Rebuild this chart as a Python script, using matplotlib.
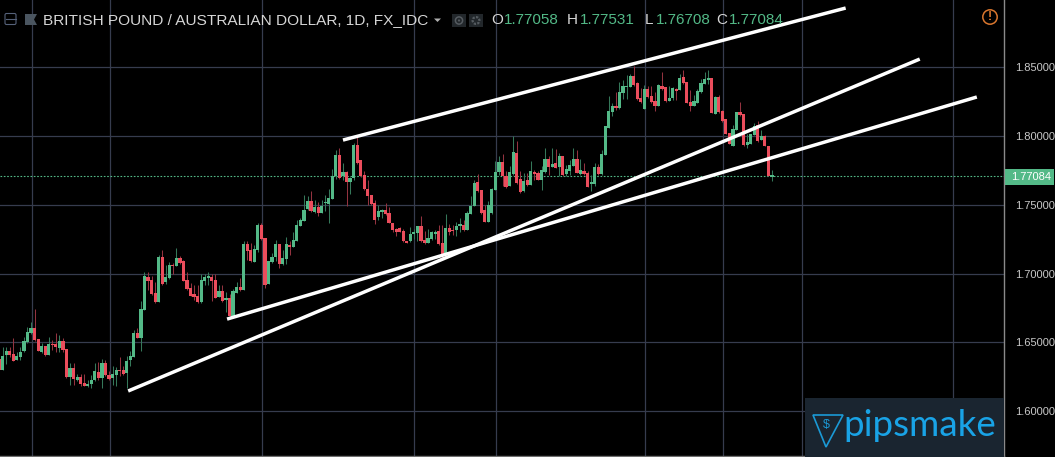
import matplotlib
matplotlib.use("Agg")
import matplotlib.pyplot as plt
import numpy as np
from matplotlib.patches import Rectangle, Polygon, Circle, FancyBboxPatch

# daily candles, GBP/AUD
opens = [1.6379,1.6300,1.6408,1.6437,1.6413,1.6372,1.6394,1.6437,1.6503,1.6568,
1.6604,1.6524,1.6430,1.6474,1.6408,1.6488,1.6488,1.6459,1.6510,1.6452,
1.6249,1.6314,1.6227,1.6249,1.6203,1.6184,1.6198,1.6227,1.6285,1.6242,
1.6350,1.6263,1.6242,1.6263,1.6300,1.6300,1.6278,1.6372,1.6394,1.6568,
1.6531,1.6734,1.6973,1.6952,1.6858,1.6792,1.7118,1.6937,1.6966,1.7060,
1.7053,1.7111,1.7089,1.6952,1.6894,1.6850,1.6836,1.6792,1.6944,1.6966,
1.6973,1.6952,1.6829,1.6872,1.6807,1.6821,1.6691,1.6858,1.6901,1.6879,
1.7214,1.7173,1.7086,1.7173,1.7355,1.7260,1.6926,1.7086,1.7122,1.7217,
1.7071,1.7108,1.7209,1.7195,1.7239,1.7348,1.7384,1.7471,1.7530,1.7450,
1.7486,1.7442,1.7515,1.7508,1.7544,1.7711,1.7864,1.7711,1.7741,1.7668,
1.7697,1.7937,1.7828,1.7719,1.7617,1.7573,1.7515,1.7413,1.7450,1.7464,
1.7442,1.7369,1.7326,1.7333,1.7311,1.7239,1.7239,1.7289,1.7297,1.7348,
1.7246,1.7224,1.7253,1.7289,1.7311,1.7224,1.7144,1.7333,1.7319,1.7319,
1.7348,1.7355,1.7319,1.7435,1.7493,1.7668,1.7610,1.7464,1.7377,1.7440,
1.7611,1.7737,1.7812,1.7713,1.7635,1.7727,1.7879,1.7689,1.7599,1.7684,
1.7647,1.7742,1.7732,1.7684,1.7742,1.7836,1.7778,1.7807,1.7776,1.7858,
1.7727,1.7749,1.7785,1.7836,1.7727,1.7749,1.7734,1.7655,1.7655,1.7778,
1.7727,1.7865,1.8058,1.8176,1.8220,1.8205,1.8314,1.8358,1.8358,1.8437,
1.8386,1.8278,1.8198,1.8343,1.8292,1.8256,1.8220,1.8365,1.8358,1.8256,
1.8278,1.8343,1.8336,1.8430,1.8394,1.8249,1.8220,1.8242,1.8321,1.8379,
1.8408,1.8423,1.8162,1.8285,1.8184,1.8126,1.8024,1.7930,1.8046,1.8176,
1.8162,1.7937,1.7945,1.8010,1.8082,1.7974,1.8003,1.7930,1.77058]

highs = [1.6396,1.6464,1.6464,1.6464,1.6531,1.6433,1.6469,1.6541,1.6614,1.6645,
1.6742,1.6524,1.6493,1.6474,1.6539,1.6517,1.6568,1.6553,1.6529,1.6452,
1.6348,1.6348,1.6268,1.6268,1.6268,1.6227,1.6263,1.6348,1.6358,1.6379,
1.6372,1.6292,1.6329,1.6319,1.6394,1.6329,1.6401,1.6437,1.6589,1.6604,
1.6800,1.7010,1.7010,1.6981,1.6937,1.7133,1.7169,1.7060,1.7082,1.7075,
1.7184,1.7126,1.7097,1.7010,1.6930,1.6915,1.6915,1.6995,1.6995,1.7010,
1.6995,1.6995,1.6915,1.6915,1.6865,1.6855,1.6886,1.6937,1.6966,1.7234,
1.7239,1.7222,1.7209,1.7367,1.7367,1.7260,1.7093,1.7151,1.7246,1.7217,
1.7173,1.7268,1.7234,1.7304,1.7391,1.7406,1.7573,1.7566,1.7602,1.7537,
1.7522,1.7537,1.7573,1.7617,1.7762,1.7901,1.7915,1.7806,1.7748,1.7704,
1.7952,1.8002,1.7828,1.7748,1.7682,1.7573,1.7537,1.7500,1.7471,1.7515,
1.7486,1.7369,1.7333,1.7340,1.7326,1.7239,1.7340,1.7326,1.7348,1.7420,
1.7311,1.7326,1.7311,1.7319,1.7355,1.7355,1.7435,1.7362,1.7355,1.7377,
1.7406,1.7391,1.7457,1.7561,1.7682,1.7726,1.7610,1.7500,1.7530,1.7622,
1.7817,1.7858,1.7870,1.7744,1.7780,1.7998,1.7961,1.7744,1.7732,1.7732,
1.7817,1.7756,1.7744,1.7785,1.7913,1.7853,1.7913,1.7906,1.7877,1.7858,
1.7792,1.7824,1.7913,1.7901,1.7836,1.7804,1.7749,1.7720,1.7804,1.7800,
1.7901,1.8075,1.8292,1.8239,1.8321,1.8394,1.8408,1.8444,1.8452,1.8510,
1.8394,1.8350,1.8372,1.8365,1.8365,1.8321,1.8379,1.8466,1.8358,1.8365,
1.8358,1.8350,1.8452,1.8481,1.8394,1.8336,1.8300,1.8343,1.8415,1.8466,
1.8481,1.8423,1.8292,1.8300,1.8191,1.8126,1.8024,1.8082,1.8176,1.8249,
1.8162,1.8017,1.8017,1.8094,1.8111,1.8046,1.8010,1.7930,1.77531]

lows = [1.6300,1.6300,1.6343,1.6396,1.6365,1.6372,1.6372,1.6430,1.6493,1.6560,
1.6510,1.6437,1.6420,1.6401,1.6408,1.6445,1.6430,1.6430,1.6430,1.6242,
1.6191,1.6191,1.6220,1.6179,1.6179,1.6176,1.6169,1.6220,1.6227,1.6169,
1.6256,1.6227,1.6191,1.6184,1.6256,1.6263,1.6169,1.6329,1.6394,1.6531,
1.6437,1.6734,1.6879,1.6843,1.6785,1.6792,1.6915,1.6923,1.6959,1.6995,
1.7053,1.7068,1.6944,1.6879,1.6836,1.6807,1.6785,1.6785,1.6915,1.6915,
1.6800,1.6821,1.6829,1.6792,1.6720,1.6691,1.6691,1.6858,1.6872,1.6879,
1.7100,1.7086,1.7086,1.7159,1.7246,1.6897,1.6926,1.7076,1.7093,1.7042,
1.7064,1.7071,1.7137,1.7195,1.7239,1.7348,1.7384,1.7464,1.7450,1.7442,
1.7420,1.7442,1.7457,1.7369,1.7544,1.7690,1.7690,1.7682,1.7493,1.7580,
1.7682,1.7799,1.7704,1.7610,1.7500,1.7500,1.7362,1.7391,1.7406,1.7428,
1.7369,1.7304,1.7275,1.7304,1.7231,1.7224,1.7231,1.7253,1.7239,1.7231,
1.7217,1.7224,1.7246,1.7253,1.7209,1.7100,1.7144,1.7282,1.7282,1.7275,
1.7304,1.7311,1.7319,1.7435,1.7493,1.7595,1.7435,1.7377,1.7377,1.7436,
1.7611,1.7720,1.7640,1.7623,1.7635,1.7720,1.7655,1.7587,1.7592,1.7640,
1.7647,1.7684,1.7679,1.7611,1.7732,1.7720,1.7776,1.7768,1.7708,1.7713,
1.7713,1.7720,1.7780,1.7732,1.7720,1.7720,1.7633,1.7604,1.7640,1.7720,
1.7720,1.7865,1.8058,1.8147,1.8191,1.8198,1.8271,1.8271,1.8358,1.8365,
1.8263,1.8242,1.8198,1.8278,1.8242,1.8184,1.8220,1.8336,1.8249,1.8256,
1.8263,1.8263,1.8336,1.8379,1.8242,1.8184,1.8220,1.8242,1.8314,1.8379,
1.8379,1.8169,1.8162,1.8169,1.8104,1.8017,1.7945,1.7930,1.8046,1.8147,
1.7930,1.7916,1.7945,1.8010,1.7959,1.7974,1.7930,1.7708,1.76708]

closes = [1.6300,1.6401,1.6437,1.6408,1.6365,1.6401,1.6430,1.6510,1.6575,1.6604,
1.6517,1.6437,1.6474,1.6408,1.6488,1.6481,1.6466,1.6510,1.6445,1.6249,
1.6314,1.6234,1.6249,1.6198,1.6184,1.6198,1.6227,1.6292,1.6242,1.6350,
1.6263,1.6234,1.6271,1.6300,1.6292,1.6271,1.6365,1.6401,1.6568,1.6531,
1.6742,1.6981,1.6944,1.6850,1.6792,1.7118,1.6923,1.6973,1.7060,1.7053,
1.7111,1.7075,1.6944,1.6886,1.6836,1.6829,1.6792,1.6952,1.6973,1.6981,
1.6944,1.6821,1.6872,1.6800,1.6821,1.6691,1.6872,1.6901,1.6879,1.7213,
1.7166,1.7093,1.7180,1.7355,1.7253,1.6918,1.7093,1.7122,1.7214,1.7071,
1.7115,1.7217,1.7195,1.7246,1.7355,1.7391,1.7464,1.7530,1.7457,1.7486,
1.7442,1.7493,1.7522,1.7551,1.7711,1.7864,1.7697,1.7741,1.7668,1.7697,
1.7937,1.7806,1.7711,1.7614,1.7566,1.7508,1.7391,1.7457,1.7464,1.7435,
1.7369,1.7319,1.7304,1.7304,1.7239,1.7224,1.7289,1.7304,1.7348,1.7239,
1.7224,1.7260,1.7304,1.7304,1.7217,1.7144,1.7333,1.7304,1.7311,1.7348,
1.7362,1.7319,1.7442,1.7493,1.7661,1.7602,1.7442,1.7377,1.7500,1.7615,
1.7739,1.7812,1.7713,1.7633,1.7742,1.7884,1.7660,1.7592,1.7676,1.7647,
1.7747,1.7727,1.7684,1.7756,1.7836,1.7778,1.7800,1.7771,1.7858,1.7718,
1.7763,1.7792,1.7836,1.7734,1.7756,1.7727,1.7633,1.7662,1.7778,1.7727,
1.7872,1.8075,1.8184,1.8220,1.8205,1.8321,1.8365,1.8365,1.8437,1.8372,
1.8271,1.8249,1.8343,1.8285,1.8249,1.8220,1.8372,1.8343,1.8256,1.8278,
1.8350,1.8329,1.8423,1.8386,1.8242,1.8220,1.8256,1.8329,1.8386,1.8415,
1.8423,1.8169,1.8285,1.8176,1.8111,1.8017,1.7945,1.8053,1.8176,1.8155,
1.7937,1.7959,1.8017,1.8075,1.7966,1.8003,1.7930,1.7708,1.77084]

# trend lines: bar index and price at both ends
trend_x = [[97.0, 238.8], [64.3, 275.8], [36.4, 259.7]]
trend_y = [[1.7971, 1.8931], [1.6669, 1.8284], [1.6146, 1.8560]]

price_ticks = [1.60, 1.65, 1.70, 1.75, 1.80, 1.85]
time_grid = [9.4, 31.4, 74.2, 117.1, 140.2, 182.3, 204.3, 226.4, 269.2]
last_price = 1.77084

GREEN = "#53b987"
RED = "#eb4d5c"
GRID = "#363c4e"
W, H = 1055, 457

fig = plt.figure(figsize=(W / 100, H / 100), dpi=100, facecolor="black")
plt.rcParams["font.family"] = ["Liberation Sans", "DejaVu Sans"]

# price pane, right edge sits on the price scale
ax = fig.add_axes([0, 1 - 455.5 / H, 1004.3 / W, 455.5 / H], facecolor="black")
ax.set_xlim(0.248, 283.55)
ax.set_ylim(1.5677, 1.89895)
for s in ax.spines.values():
    s.set_visible(False)
ax.spines["right"].set_visible(True)
ax.spines["right"].set_color("#8a8a8a")
ax.spines["right"].set_linewidth(1.0)
ax.spines["bottom"].set_visible(True)
ax.spines["bottom"].set_color("#6f6f6f")
ax.spines["bottom"].set_linewidth(1.0)
ax.set_xticks([])
ax.yaxis.tick_right()
ax.set_yticks(price_ticks)
ax.set_yticklabels(["%.5f" % p for p in price_ticks], color="#c8c8c8", fontsize=8.0)
ax.tick_params(axis="y", length=0, pad=8)
ax.set_axisbelow(True)
for p in price_ticks:
    ax.axhline(p, color=GRID, lw=0.9, zorder=1)
for t in time_grid:
    ax.axvline(t, color=GRID, lw=0.9, zorder=1)

o = np.array(opens)
c = np.array(closes)
xs = np.arange(len(o))
up = c >= o
body_low = np.minimum(o, c)
body_h = np.maximum(np.abs(c - o), 0.0008)

ax.vlines(xs[up], np.array(lows)[up], np.array(highs)[up], color="#35785a", lw=0.75, zorder=3)
ax.vlines(xs[~up], np.array(lows)[~up], np.array(highs)[~up], color="#93333f", lw=0.75, zorder=3)
ax.bar(xs[up], body_h[up], bottom=body_low[up], width=0.9, color=GREEN, lw=0, zorder=4)
ax.bar(xs[~up], body_h[~up], bottom=body_low[~up], width=0.9, color=RED, lw=0, zorder=4)

ax.axhline(last_price, color=GREEN, lw=0.8, ls=(0, (1.5, 1.5)), zorder=2)

for tx, ty in zip(trend_x, trend_y):
    ax.plot(tx, ty, color="white", lw=2.5, solid_capstyle="butt", zorder=6)

# everything else is screen furniture, placed in pixels
top = fig.add_axes([0, 0, 1, 1])
top.set_xlim(0, W)
top.set_ylim(H, 0)
top.axis("off")
top.patch.set_alpha(0)

top.add_patch(Rectangle((1004.5, 169), 49.5, 16, color=GREEN, lw=0))
top.text(1031, 177.3, "%.5f" % last_price, color="white", fontsize=8.0, ha="center", va="center")

# header row
top.add_patch(FancyBboxPatch((5, 13.5), 11, 11, boxstyle="round,pad=0,rounding_size=1.5",
                             fc="none", ec="#56627a", lw=0.8))
top.plot([5.5, 15.5], [19, 19], color="#56627a", lw=0.8)
top.add_patch(Polygon([[25, 14], [37, 14], [34, 19.5], [37, 25], [25, 25]], color="#4a5560", lw=0))
top.text(43, 20, "BRITISH POUND / AUSTRALIAN DOLLAR, 1D, FX_IDC", color="#d6d6d6",
         fontsize=11.1, va="center", ha="left")
top.add_patch(Polygon([[434, 18.5], [441, 18.5], [437.5, 22]], color="#b0b0b0", lw=0))
top.add_patch(Rectangle((452, 14), 14, 13, color="#22272b", lw=0))
top.add_patch(Rectangle((469, 14), 14, 13, color="#22272b", lw=0))
top.add_patch(Circle((459, 20.5), 3.6, fc="none", ec="#555b60", lw=1.1))
top.add_patch(Circle((459, 20.5), 1.1, color="#555b60", lw=0))
top.add_patch(Circle((476, 20.5), 3.4, fc="none", ec="#555b60", lw=1.6, ls=(0, (1, 0.6))))

letters = ["O", "H", "L", "C"]
letter_x = [491, 567, 645, 716]
ohlc_text = ["1.77058", "1.77531", "1.76708", "1.77084"]
value_x = [503.5, 580, 656, 729]
for s, lx, val, vx in zip(letters, letter_x, ohlc_text, value_x):
    top.text(lx, 20, s, color="#d6d6d6", fontsize=11.0, va="center", ha="left")
    top.text(vx, 20, val, color=GREEN, fontsize=11.0, va="center", ha="left")

# warning mark, top right
top.add_patch(Circle((990, 17), 7.2, fc="none", ec="#d9762e", lw=1.1))
top.text(990, 17, "!", color="#d9762e", fontsize=9, ha="center", va="center", fontweight="bold")

# logo box
top.add_patch(Rectangle((805, 398), 198.5, 59, color="#1a2530", lw=0, zorder=8))
top.add_patch(Polygon([[813, 415], [843, 415], [826, 447]], fc="none", ec="#1b9ad6", lw=1.2, zorder=9))
top.text(826, 425, "$", color="#1b9ad6", fontsize=9, ha="center", va="center", zorder=9)
top.text(843, 426, "pipsmake", color="#19a3e6", fontsize=26.5, ha="left", va="center", zorder=9,
         family=["Lato", "DejaVu Sans"])

fig.savefig("out.png", dpi=100, facecolor="black")
